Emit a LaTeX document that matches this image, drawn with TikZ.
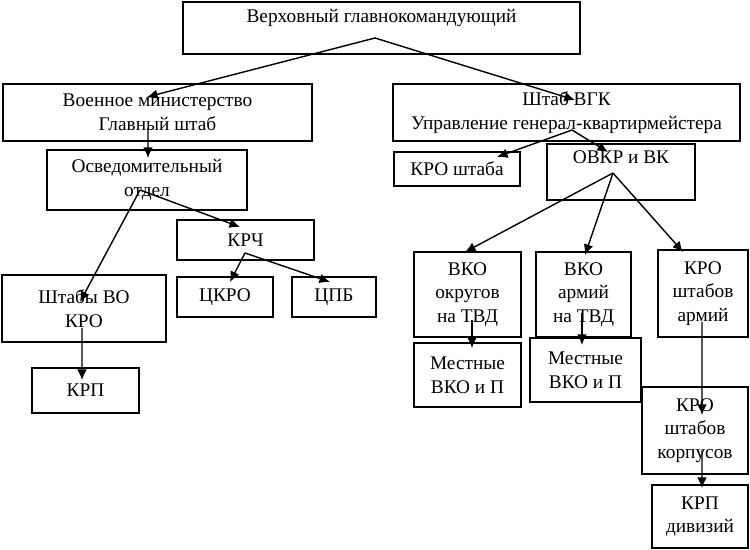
\documentclass[tikz,border=0pt]{standalone}
\usepackage{fontspec}
\setmainfont{Liberation Serif}
\usepackage{tikz}
\usetikzlibrary{arrows.meta}

\tikzset{
  box/.style={draw, black, line width=0.9pt, align=center, inner sep=0pt, font=\fontsize{11}{13.5}\selectfont},
  arr/.style={black, line width=0.8pt, -{Latex[length=6pt,width=5.5pt]}}
}

\begin{document}
\begin{tikzpicture}
\useasboundingbox (0,0) rectangle (15,-11);
% boxes
\node[box, minimum width=7.94cm, text height=0.42cm, text depth=0.62cm] (verh) at (7.63,-0.56) {Верховный главнокомандующий};
\node[box, minimum width=6.18cm, minimum height=1.14cm] (voen) at (3.15,-2.25) {Военное министерство\\Главный штаб};
\node[box, minimum width=4.0cm, minimum height=1.2cm] (osv) at (2.94,-3.6) {Осведомительный\\отдел};
\node[box, minimum width=2.74cm, minimum height=0.8cm] (krch) at (4.91,-4.8) {КРЧ};
\node[box, minimum width=3.28cm, minimum height=1.34cm] (shtvo) at (1.68,-6.17) {Штабы ВО\\КРО};
\node[box, minimum width=1.92cm, minimum height=0.8cm] (ckro) at (4.5,-5.94) {ЦКРО};
\node[box, minimum width=1.68cm, minimum height=0.8cm] (cpb) at (6.68,-5.94) {ЦПБ};
\node[box, minimum width=2.14cm, minimum height=0.9cm] (krp) at (1.71,-7.81) {КРП};
\node[box, minimum width=6.94cm, minimum height=1.14cm] (shvgk) at (11.33,-2.25) {Штаб ВГК\\Управление генерал-квартирмейстера};
\node[box, minimum width=2.52cm, minimum height=0.68cm] (kroshtaba) at (9.14,-3.38) {КРО штаба};
\node[box, minimum width=2.96cm, text height=0.4cm, text depth=0.72cm] (ovkr) at (12.42,-3.44) {ОВКР и ВК};
\node[box, minimum width=2.14cm, minimum height=1.7cm] (vkookr) at (9.35,-5.89) {ВКО\\округов\\на ТВД};
\node[box, minimum width=1.9cm, minimum height=1.7cm] (vkoarm) at (11.67,-5.89) {ВКО\\армий\\на ТВД};
\node[box, minimum width=1.8cm, minimum height=1.74cm] (kroarm) at (14.06,-5.87) {КРО\\штабов\\армий};
\node[box, minimum width=2.14cm, minimum height=1.28cm] (mestn1) at (9.35,-7.5) {Местные\\ВКО и П};
\node[box, minimum width=2.22cm, minimum height=1.28cm] (mestn2) at (11.71,-7.4) {Местные\\ВКО и П};
\node[box, minimum width=2.12cm, minimum height=1.74cm] (krokorp) at (13.9,-8.61) {КРО\\штабов\\корпусов};
\node[box, minimum width=1.92cm, minimum height=1.26cm] (krpdiv) at (14.0,-10.33) {КРП\\дивизий};
% arrows
\draw[arr] ([shift={(-0.13,-0.2)}]verh.center) -- ([shift={(-0.21,0.31)}]voen.center);
\draw[arr] ([shift={(-0.13,-0.2)}]verh.center) -- ([shift={(0.17,0.25)}]shvgk.center);
\draw[arr] ([shift={(-0.19,-0.31)}]voen.center) -- ([shift={(0.02,0.44)}]osv.center);
\draw[arr] ([shift={(-0.14,-0.2)}]osv.center) -- ([shift={(-0.08,0.13)}]shtvo.center);
\draw[arr] ([shift={(-0.14,-0.2)}]osv.center) -- ([shift={(-0.11,0.26)}]krch.center);
\draw[arr] ([shift={(-0.01,-0.26)}]krch.center) -- ([shift={(0.1,0.3)}]ckro.center);
\draw[arr] ([shift={(-0.01,-0.26)}]krch.center) -- ([shift={(-0.08,0.3)}]cpb.center);
\draw[arr] ([shift={(-0.04,-0.39)}]shtvo.center) -- ([shift={(-0.07,0.21)}]krp.center);
\draw[arr] ([shift={(0.11,-0.35)}]shvgk.center) -- ([shift={(0.8,0.24)}]kroshtaba.center);
\draw[arr] ([shift={(0.11,-0.35)}]shvgk.center) -- ([shift={(-0.26,0.4)}]ovkr.center);
\draw[arr] ([shift={(-0.16,-0.02)}]ovkr.center) -- ([shift={(-0.05,0.85)}]vkookr.center);
\draw[arr] ([shift={(-0.16,-0.02)}]ovkr.center) -- ([shift={(0.03,0.79)}]vkoarm.center);
\draw[arr] ([shift={(-0.16,-0.02)}]ovkr.center) -- ([shift={(-0.4,0.83)}]kroarm.center);
\draw[arr] ([shift={(0.09,-0.51)}]vkookr.center) -- ([shift={(0.09,0.54)}]mestn1.center);
\draw[arr] ([shift={(-0.03,-0.37)}]vkoarm.center) -- ([shift={(-0.07,0.5)}]mestn2.center);
\draw[arr] ([shift={(-0.02,-0.57)}]kroarm.center) -- ([shift={(0.14,0.31)}]krokorp.center);
\draw[arr] ([shift={(0.14,-0.39)}]krokorp.center) -- ([shift={(0.04,0.57)}]krpdiv.center);
\end{tikzpicture}
\end{document}
